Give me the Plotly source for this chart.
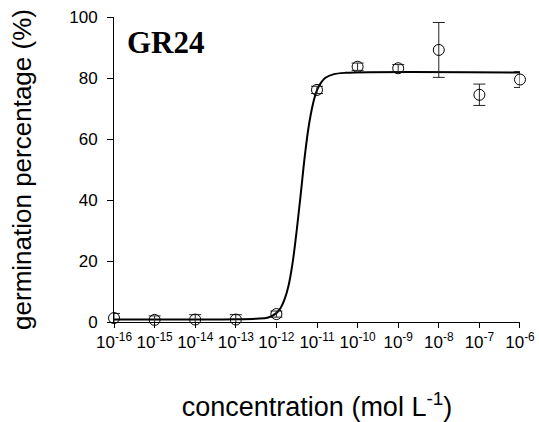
import plotly.graph_objects as go

# measured germination (%) at each GR24 concentration (mol/L)
conc = [1e-16, 1e-15, 1e-14, 1e-13, 1e-12, 1e-11, 1e-10, 1e-9, 1e-8, 1e-7, 1e-6]
germ = [1.3, 0.7, 0.8, 0.8, 2.6, 76.1, 83.7, 83.2, 89.2, 74.5, 79.5]
germ_err = [1.5, 1.3, 1.6, 1.6, 1.0, 1.2, 1.2, 1.2, 9.0, 3.5, 2.6]

# fitted dose-response curve (log10 conc, %)
curve_logc = [-16, -13, -12.5, -12.2, -12.0, -11.9, -11.8, -11.7, -11.6, -11.5,
              -11.4, -11.3, -11.2, -11.1, -11.0, -10.9, -10.8, -10.6, -10.3, -6]
curve_germ = [0.8, 0.9, 1.1, 1.5, 2.9, 4.5, 7.4, 12.0, 19.5, 30.0,
              42.0, 54.5, 64.5, 71.5, 76.0, 78.5, 80.0, 81.2, 81.7, 81.8]

tick_exp = [-16, -15, -14, -13, -12, -11, -10, -9, -8, -7, -6]
tick_text = ["10<sup>%d</sup>" % e for e in tick_exp]

fig = go.Figure()

fig.add_trace(go.Scatter(
    x=[10 ** c for c in curve_logc], y=curve_germ,
    mode="lines", line=dict(color="black", width=2, shape="spline"),
    showlegend=False, cliponaxis=False,
))

fig.add_trace(go.Scatter(
    x=conc, y=germ, mode="markers",
    marker=dict(symbol="circle-open", size=11, color="black", line=dict(width=1, color="black")),
    error_y=dict(type="data", array=germ_err, color="#222", thickness=1, width=6),
    showlegend=False, cliponaxis=False,
))

fig.add_annotation(
    text="<b>GR24</b>", xref="paper", yref="paper", x=0.027, y=0.915,
    xanchor="left", yanchor="middle", showarrow=False,
    font=dict(family="Liberation Serif", size=31, color="black"),
)

# tiny padding on the range so the end points are not dropped by float rounding
fig.update_xaxes(
    type="log", range=[-16.0005, -5.9995], automargin=False,
    tickvals=[10.0 ** e for e in tick_exp], ticktext=tick_text, tickangle=0,
    showline=True, linecolor="black", linewidth=1, mirror=False,
    ticks="outside", ticklen=5, tickcolor="black", showgrid=False, zeroline=False,
    tickfont=dict(size=17, color="black"), ticklabeloverflow="allow",
    title=dict(text="concentration (mol L<sup>-1</sup>)", font=dict(size=27, color="black"), standoff=48),
)
fig.update_yaxes(
    range=[0, 100], tickvals=[0, 20, 40, 60, 80, 100], automargin=False,
    showline=True, linecolor="black", linewidth=1,
    ticks="outside", ticklen=6, tickcolor="black", showgrid=False, zeroline=False,
    tickfont=dict(size=17, color="black"), ticklabelstandoff=6, ticklabeloverflow="allow",
    title=dict(text="germination percentage (%)", font=dict(size=26, color="black"), standoff=30),
)

fig.update_layout(
    width=539, height=422,
    margin=dict(l=114, r=19, t=17, b=100),
    plot_bgcolor="white", paper_bgcolor="white",
    font=dict(family="Liberation Sans", color="black"),
)

# drop the default 8px body margin so the figure sits at the window corner
fig.write_html("out.html", config={"displayModeBar": False},
               post_script="document.body.style.margin = '0';")
